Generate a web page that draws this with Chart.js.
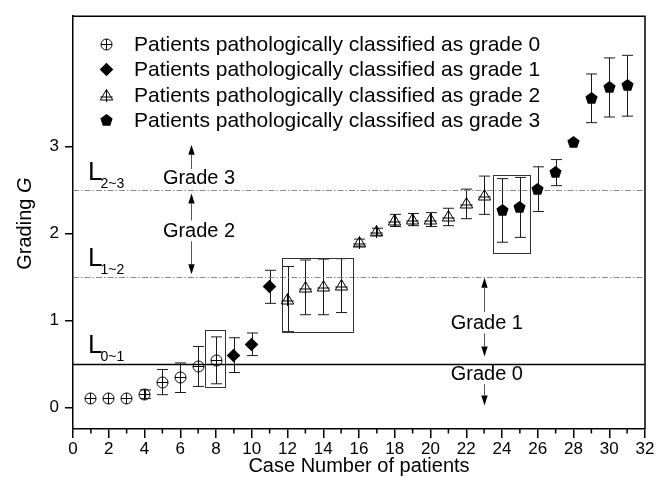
<!DOCTYPE html>
<html>
<head>
<meta charset="utf-8">
<script src="https://cdn.jsdelivr.net/npm/chart.js@4/dist/chart.umd.min.js"></script>
<style>
  html, body { margin: 0; padding: 0; background: #fff; }
  canvas { display: block; }
</style>
</head>
<body>
<canvas id="chart" width="666" height="488"></canvas>
<script>
const FONT = '"Liberation Sans", Arial, Helvetica, sans-serif';

// Grading G per patient, with its uncertainty, grouped by pathological grade
const grade0Cases  = [1, 2, 3, 4, 5, 6, 7, 8];
const grade0Values = [0.10, 0.10, 0.10, 0.15, 0.29, 0.34, 0.47, 0.54];
const grade0Errors = [0, 0, 0, 0.05, 0.145, 0.17, 0.23, 0.27];

const grade1Cases  = [9, 10, 11];
const grade1Values = [0.60, 0.725, 1.386];
const grade1Errors = [0.20, 0.13, 0.19];

const grade2Cases  = [12, 13, 14, 15, 16, 17, 18, 19, 20, 21, 22, 23];
const grade2Values = [1.245, 1.38, 1.385, 1.40, 1.895, 2.02, 2.15, 2.16, 2.16, 2.19, 2.34, 2.44];
const grade2Errors = [0.375, 0.315, 0.32, 0.31, 0.04, 0.04, 0.07, 0.07, 0.08, 0.10, 0.17, 0.22];

const grade3Cases  = [24, 25, 26, 27, 28, 29, 30, 31];
const grade3Values = [2.265, 2.30, 2.51, 2.70, 3.05, 3.555, 3.68, 3.70];
const grade3Errors = [0.366, 0.345, 0.257, 0.15, 0, 0.28, 0.34, 0.35];

const seriesLabels = [
  'Patients pathologically classified as grade 0',
  'Patients pathologically classified as grade 1',
  'Patients pathologically classified as grade 2',
  'Patients pathologically classified as grade 3'
];

const xTicks = [0, 2, 4, 6, 8, 10, 12, 14, 16, 18, 20, 22, 24, 26, 28, 30, 32];
const xMinorTicks = [1, 3, 5, 7, 9, 11, 13, 15, 17, 19, 21, 23, 25, 27, 29, 31];
const yTicks = [0, 1, 2, 3];

// Threshold levels between grades
const levelValues = [0.5, 1.5, 2.5];
const levelNames  = ['0~1', '1~2', '2~3'];

// Misclassified groups: [case from, case to, G from, G to]
const groupBoxes = [
  [7.40, 8.52, 0.235, 0.89],
  [11.69, 15.65, 0.87, 1.72],
  [23.47, 25.58, 1.78, 2.67]
];

// Grade region labels and their arrows (case position, G position)
const regionLabels = ['Grade 0', 'Grade 1', 'Grade 2', 'Grade 3'];
const regionLabelAt = [[23.15, 0.378], [23.15, 0.963], [7.05, 2.02], [7.05, 2.63]];
// [case, G tail, G head]
const regionArrows = [
  [6.6, 2.74, 3.02], [6.6, 2.15, 2.46], [6.6, 1.91, 1.53],
  [23, 1.095, 1.49], [23, 0.85, 0.585], [23, 0.265, 0.02]
];

function points(cases, values, errors) {
  return cases.map((c, i) => ({ x: c, y: values[i], err: errors[i] }));
}

// Marker glyphs
function makeMarker(kind) {
  const size = 17;
  const c = document.createElement('canvas');
  c.width = size; c.height = size;
  const g = c.getContext('2d');
  g.translate(size / 2, size / 2);
  g.strokeStyle = '#000';
  g.fillStyle = '#000';
  g.lineWidth = 1;
  if (kind === 'circlePlus') {
    const r = 5.5;
    g.beginPath(); g.arc(0, 0, r, 0, Math.PI * 2); g.stroke();
    g.beginPath();
    g.moveTo(-r, 0); g.lineTo(r, 0);
    g.moveTo(0, -r); g.lineTo(0, r);
    g.stroke();
  } else if (kind === 'diamond') {
    const r = 6.8;
    g.beginPath();
    g.moveTo(0, -r); g.lineTo(r, 0); g.lineTo(0, r); g.lineTo(-r, 0);
    g.closePath(); g.fill();
  } else if (kind === 'trianglePlus') {
    g.beginPath();
    g.moveTo(0, -6); g.lineTo(6.2, 4.5); g.lineTo(-6.2, 4.5);
    g.closePath(); g.stroke();
    g.beginPath();
    g.moveTo(0, -6); g.lineTo(0, 6.5);
    g.moveTo(-6.2, 1.5); g.lineTo(6.2, 1.5);
    g.stroke();
  } else if (kind === 'pentagon') {
    const r = 6.4;
    g.beginPath();
    for (let k = 0; k < 5; k++) {
      const a = -Math.PI / 2 + k * 2 * Math.PI / 5;
      const px = r * Math.cos(a), py = r * Math.sin(a);
      if (k === 0) g.moveTo(px, py); else g.lineTo(px, py);
    }
    g.closePath(); g.fill();
  }
  return c;
}

const markers = [
  makeMarker('circlePlus'),
  makeMarker('diamond'),
  makeMarker('trianglePlus'),
  makeMarker('pentagon')
];

// Error bars with caps, drawn underneath the markers
const errorBarPlugin = {
  id: 'errorBars',
  beforeDatasetsDraw(chart) {
    const { ctx, scales: { x, y } } = chart;
    ctx.save();
    ctx.strokeStyle = '#1a1a1a';
    ctx.lineWidth = 1;
    const cap = 5.5;
    chart.data.datasets.forEach(ds => {
      ds.data.forEach(p => {
        if (!p.err) return;
        const px = Math.round(x.getPixelForValue(p.x)) + 0.5;
        const yLo = y.getPixelForValue(p.y - p.err);
        const yHi = y.getPixelForValue(p.y + p.err);
        ctx.beginPath();
        ctx.moveTo(px, yLo); ctx.lineTo(px, yHi);
        ctx.moveTo(px - cap, yLo); ctx.lineTo(px + cap, yLo);
        ctx.moveTo(px - cap, yHi); ctx.lineTo(px + cap, yHi);
        ctx.stroke();
      });
    });
    ctx.restore();
    // keep the marker glyphs crisp at fractional positions
    ctx.imageSmoothingEnabled = false;
  },
  afterDatasetsDraw(chart) {
    chart.ctx.imageSmoothingEnabled = true;
  }
};

function drawArrow(ctx, x, y0, y1) {
  const dir = y1 < y0 ? -1 : 1;
  const headLen = 10, headHalf = 3.2;
  ctx.save();
  ctx.strokeStyle = '#555';
  ctx.lineWidth = 1;
  ctx.beginPath();
  ctx.moveTo(x, y0); ctx.lineTo(x, y1 - dir * headLen);
  ctx.stroke();
  ctx.fillStyle = '#000';
  ctx.beginPath();
  ctx.moveTo(x, y1);
  ctx.lineTo(x - headHalf, y1 - dir * headLen);
  ctx.lineTo(x + headHalf, y1 - dir * headLen);
  ctx.closePath(); ctx.fill();
  ctx.restore();
}

// Threshold lines, boxes, arrows and labels
const annotationPlugin = {
  id: 'gradeAnnotations',
  beforeDatasetsDraw(chart) {
    const { ctx, chartArea: a, scales: { x, y } } = chart;
    ctx.save();
    ctx.beginPath(); ctx.rect(a.left, a.top, a.right - a.left, a.bottom - a.top); ctx.clip();

    levelValues.forEach((v, i) => {
      const py = Math.round(y.getPixelForValue(v)) + 0.5;
      ctx.beginPath();
      if (i === 0) {
        ctx.setLineDash([]);
        ctx.strokeStyle = '#000';
        ctx.lineWidth = 1.5;
      } else {
        ctx.setLineDash([6, 2, 1.5, 2]);
        ctx.strokeStyle = '#8a8a8a';
        ctx.lineWidth = 1;
      }
      ctx.moveTo(a.left, py); ctx.lineTo(a.right, py);
      ctx.stroke();
    });
    ctx.setLineDash([]);

    ctx.strokeStyle = '#333';
    ctx.lineWidth = 1;
    groupBoxes.forEach(b => {
      const x0 = Math.round(x.getPixelForValue(b[0])) + 0.5;
      const x1 = Math.round(x.getPixelForValue(b[1])) + 0.5;
      const y0 = Math.round(y.getPixelForValue(b[2])) + 0.5;
      const y1 = Math.round(y.getPixelForValue(b[3])) + 0.5;
      ctx.strokeRect(x0, y1, x1 - x0, y0 - y1);
    });

    regionArrows.forEach(r => {
      const px = Math.round(x.getPixelForValue(r[0])) + 0.5;
      drawArrow(ctx, px, y.getPixelForValue(r[1]), y.getPixelForValue(r[2]));
    });
    ctx.restore();
  },
  afterDraw(chart) {
    const { ctx, chartArea: a, scales: { x, y } } = chart;
    ctx.save();

    // frame on top and right
    ctx.strokeStyle = '#000';
    ctx.lineWidth = 1.5;
    ctx.beginPath();
    ctx.moveTo(a.left, a.top); ctx.lineTo(a.right, a.top); ctx.lineTo(a.right, a.bottom);
    ctx.stroke();

    // minor ticks on the case axis
    ctx.lineWidth = 1.5;
    xMinorTicks.forEach(v => {
      const px = x.getPixelForValue(v);
      ctx.beginPath(); ctx.moveTo(px, a.bottom); ctx.lineTo(px, a.bottom + 4.5); ctx.stroke();
    });

    // level names L with subscript
    ctx.fillStyle = '#000';
    ctx.textAlign = 'left';
    ctx.textBaseline = 'alphabetic';
    levelValues.forEach((v, i) => {
      const py = y.getPixelForValue(v);
      const lx = a.left + 15;
      const base = py - 10.5;
      ctx.font = '26px ' + FONT;
      ctx.fillText('L', lx, base);
      const w = ctx.measureText('L').width;
      ctx.font = '14px ' + FONT;
      ctx.fillText(levelNames[i], lx + w - 2, base + 8);
    });

    // grade region labels
    ctx.font = '20px ' + FONT;
    ctx.textAlign = 'center';
    ctx.textBaseline = 'middle';
    regionLabels.forEach((t, i) => {
      const px = x.getPixelForValue(regionLabelAt[i][0]);
      const py = y.getPixelForValue(regionLabelAt[i][1]);
      ctx.fillText(t, px, py);
    });

    // legend
    ctx.textAlign = 'left';
    ctx.textBaseline = 'middle';
    ctx.font = '21px ' + FONT;
    chart.data.datasets.forEach((ds, i) => {
      const cy = a.top + 28 + i * 25.5;
      const img = ds.pointStyle;
      ctx.drawImage(img, Math.round(a.left + 33.5 - img.width / 2), Math.round(cy - img.height / 2));
      ctx.fillText(ds.label, a.left + 61, cy + 1);
    });

    // vertical axis title: Grading G
    ctx.translate(25, (a.top + a.bottom) / 2 + 1);
    ctx.rotate(-Math.PI / 2);
    ctx.textBaseline = 'middle';
    ctx.textAlign = 'left';
    const t1 = 'Grading ', t2 = 'G';
    ctx.font = '20px ' + FONT;
    const w1 = ctx.measureText(t1).width;
    ctx.font = 'italic 20px ' + FONT;
    const w2 = ctx.measureText(t2).width;
    const start = -(w1 + w2) / 2;
    ctx.font = '20px ' + FONT;
    ctx.fillText(t1, start, 0);
    ctx.font = 'italic 20px ' + FONT;
    ctx.fillText(t2, start + w1, 0);

    ctx.restore();
  }
};

const allCases  = [grade0Cases, grade1Cases, grade2Cases, grade3Cases];
const allValues = [grade0Values, grade1Values, grade2Values, grade3Values];
const allErrors = [grade0Errors, grade1Errors, grade2Errors, grade3Errors];

const datasets = seriesLabels.map((label, i) => ({
  label,
  data: points(allCases[i], allValues[i], allErrors[i]),
  pointStyle: markers[i],
  pointRadius: 6,
  showLine: false
}));

new Chart(document.getElementById('chart'), {
  type: 'scatter',
  data: { datasets },
  options: {
    responsive: false,
    animation: false,
    devicePixelRatio: 1,
    layout: { padding: { left: 0, top: 10, right: 21, bottom: 0 } },
    plugins: {
      legend: { display: false },
      tooltip: { enabled: false }
    },
    scales: {
      x: {
        type: 'linear',
        min: 0,
        max: 32,
        afterBuildTicks: s => { s.ticks = xTicks.map(v => ({ value: v })); },
        afterFit: s => { s.height = 59; },
        ticks: {
          font: { family: FONT, size: 17 },
          color: '#000',
          padding: 1,
          maxRotation: 0,
          autoSkip: false
        },
        grid: {
          drawOnChartArea: false,
          drawTicks: true,
          tickLength: 9,
          color: '#000',
          lineWidth: 1.5
        },
        border: { color: '#000', width: 1.5 },
        title: {
          display: true,
          text: 'Case Number of patients',
          color: '#000',
          font: { family: FONT, size: 20 },
          padding: { top: 0, bottom: 10 }
        }
      },
      y: {
        type: 'linear',
        min: -0.25,
        max: 4.5,
        afterBuildTicks: s => { s.ticks = yTicks.map(v => ({ value: v })); },
        afterFit: s => { s.width = 73; },
        ticks: {
          font: { family: FONT, size: 17 },
          color: '#000',
          padding: 6
        },
        grid: {
          drawOnChartArea: false,
          drawTicks: true,
          tickLength: 8,
          color: '#000',
          lineWidth: 1.5
        },
        border: { color: '#000', width: 1.5 }
      }
    }
  },
  plugins: [errorBarPlugin, annotationPlugin]
});
</script>
</body>
</html>
